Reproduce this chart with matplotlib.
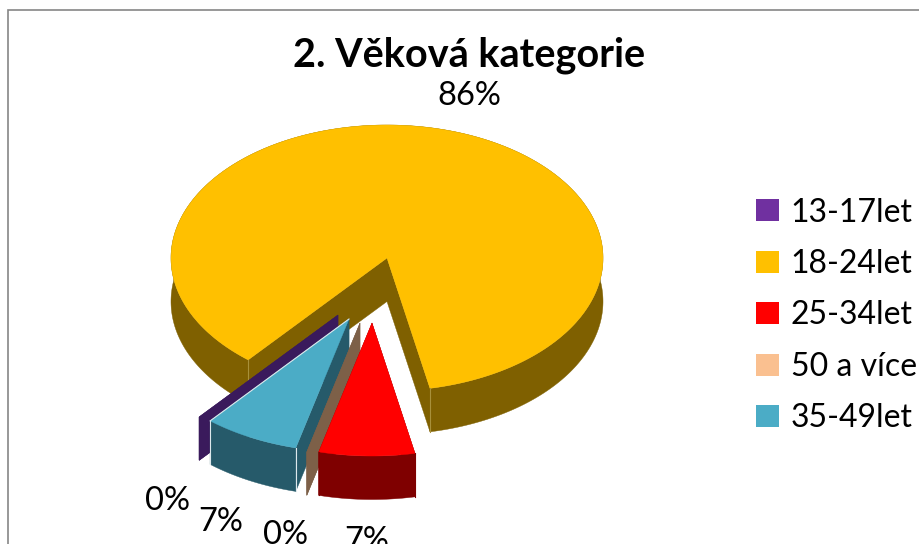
import numpy as np
import matplotlib
matplotlib.use("Agg")
import matplotlib.pyplot as plt
from matplotlib.patches import Polygon, Rectangle, Patch

title = "2. Věková kategorie"
categories = ["13-17let", "18-24let", "25-34let", "50 a více", "35-49let"]
values = [0, 85.7, 7.15, 0, 7.15]
value_labels = ["0%", "86%", "7%", "0%", "7%"]

top_colors = ["#7030A0", "#FFC000", "#FF0000", "#FAC090", "#4BACC6"]
side_colors = ["#3A1A5C", "#7F6000", "#7F0000", "#7D6048", "#265A6A"]
explode_px = [(-49, 57), (0, 0), (-15, 65), (-27, 65), (-38, 61)]
label_px = [(168, 501), (469, 96), (367, 541), (286, 535), (221, 522)]
draw_order = [1, 0, 4, 3, 2]

START = 230.0
CX, CY, RX, RY, DEPTH = 387, 258, 216, 133, 43.5

plt.rcParams["font.family"] = ["Lato", "DejaVu Sans"]
fig = plt.figure(figsize=(9.2, 5.44), dpi=100)
ax = fig.add_axes([0, 0, 1, 1])
ax.set_xlim(0, 920)
ax.set_ylim(544, 0)
ax.axis("off")

ax.add_patch(Rectangle((8.5, 10), 930, 560, fc="white", ec="#868686", lw=1.2, zorder=0))

shares = np.array(values, dtype=float) / sum(values) * 360
ends = START - np.cumsum(shares)
starts = ends + shares


def rim(a1, a2, dx, dy):
    t = np.radians(np.linspace(a1, a2, max(int(abs(a1 - a2) * 2), 2)))
    return np.column_stack([CX + dx + RX * np.cos(t), CY + dy - RY * np.sin(t)])


z = 1
for i in draw_order:
    dx, dy = explode_px[i]
    arc = rim(starts[i], ends[i], dx, dy)
    apex = np.array([CX + dx, CY + dy])
    drop = np.array([0, DEPTH])
    side = side_colors[i]
    for p in (arc[0], arc[-1]):
        ax.add_patch(Polygon([apex, p, p + drop, apex + drop], fc=side, ec=side, lw=0.3, zorder=z))
    ax.add_patch(Polygon(np.vstack([arc, (arc + drop)[::-1]]), fc=side, ec=side, lw=0.3, zorder=z + 1))
    if values[i] > 0:
        ax.add_patch(Polygon(np.vstack([apex, arc]), fc=top_colors[i], ec=top_colors[i], lw=0.3, zorder=z + 2))
        # thin highlight on the corners where the slice's cuts meet its rim
        light = "#DDE8EC" if i == 4 else "#A8903A" if i == 1 else side
        for corner in (arc[0], arc[-1]):
            if i == 4 and corner is arc[0]:
                continue
            ax.plot([corner[0], corner[0]], [corner[1], corner[1] + DEPTH], color=light, lw=0.8, zorder=z + 2)
        if i == 4:
            ax.plot([apex[0], arc[-1][0]], [apex[1], arc[-1][1]], color=light, lw=0.8, zorder=z + 2)
    z += 3

for (x, y), text in zip(label_px, value_labels):
    ax.text(x, y, text, ha="center", va="center", fontsize=23.5, color="black", zorder=z + 1)

ax.text(469, 55, title, ha="center", va="center", fontsize=28.5, fontweight="bold", color="black", zorder=z + 1)

handles = [Patch(fc=c, ec="none") for c in top_colors]
ax.legend(handles, categories, loc="upper left", bbox_to_anchor=(746 / 920, 1 - 188 / 544),
          frameon=False, fontsize=23, handlelength=0.72, handleheight=0.69,
          handletextpad=0.375, labelspacing=0.67, borderpad=0, borderaxespad=0.3)

fig.savefig("out.png", dpi=100)
